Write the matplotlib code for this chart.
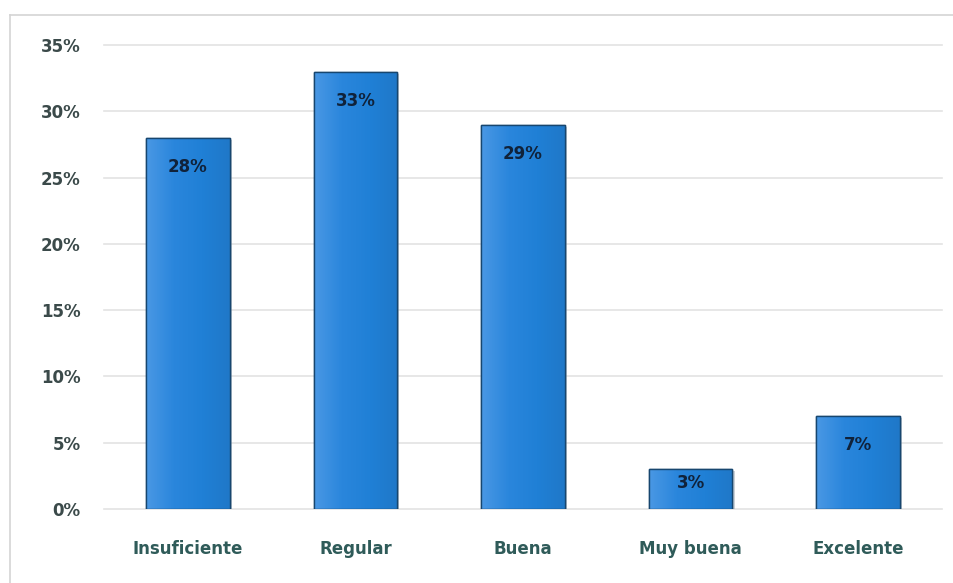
import matplotlib
matplotlib.use("Agg")
import matplotlib.pyplot as plt
import numpy as np
from matplotlib.patches import Rectangle
from matplotlib.colors import LinearSegmentedColormap

categories = ["Insuficiente", "Regular", "Buena", "Muy buena", "Excelente"]
values = [28, 33, 29, 3, 7]
labels = ["28%", "33%", "29%", "3%", "7%"]
yticks = [0, 5, 10, 15, 20, 25, 30, 35]

plt.rcParams["font.family"] = ["DejaVu Sans"]

fig = plt.figure(figsize=(9.54, 5.83), dpi=100)
fig.patch.set_facecolor("white")

# light frame around the chart (top and left edges)
fig.add_artist(plt.Line2D([10/954, 1.0], [1-15/583, 1-15/583], color="#d4d4d4", lw=1.2,
                          transform=fig.transFigure))
fig.add_artist(plt.Line2D([10/954, 10/954], [0.0, 1-15/583], color="#d4d4d4", lw=1.2,
                          transform=fig.transFigure))

ax = fig.add_axes([104/954, 1-509/583, 838/954, (509-45)/583])
ax.set_xlim(-0.5, len(categories) - 0.5)
ax.set_ylim(0, 35)

for y in yticks:
    ax.axhline(y, color="#e3e3e3", lw=1.2, zorder=0, clip_on=False)

cmap = LinearSegmentedColormap.from_list("bar", ["#4a98e4", "#2a86dc", "#2080d6", "#1f78c8"])
grad = np.linspace(0, 1, 256).reshape(1, -1)
width = 0.5
x = np.arange(len(categories))
bars = ax.bar(x, values, width=width, color="#2a84d8", edgecolor="#17466f", linewidth=1.0, zorder=2)
for b in bars:
    x0, w, h = b.get_x(), b.get_width(), b.get_height()
    # soft drop shadow
    ax.add_patch(Rectangle((x0 + 0.012, 0), w, h - 0.15, facecolor="#9aa7b3", edgecolor="none",
                           alpha=0.5, zorder=1))
    im = ax.imshow(grad, cmap=cmap, aspect="auto", extent=(x0, x0 + w, 0, h), zorder=2.5)
    im.set_clip_path(b)
    ax.add_patch(Rectangle((x0, 0), w, h, facecolor="none", edgecolor="#17466f", lw=1.0, zorder=3))

ax.set_xlim(-0.5, len(categories) - 0.5)
ax.set_ylim(0, 35)

for xi, v, lab in zip(x, values, labels):
    ax.text(xi, v - 2.2 if v > 5 else v - 1.05, lab, ha="center", va="center", fontsize=12,
            fontweight="bold", color="#10223a", zorder=4)

ax.set_xticks(x)
ax.set_xticklabels(categories, fontsize=12, color="#2f5b59", fontweight="bold")
ax.set_yticks(yticks)
ax.set_yticklabels([f"{t}%" for t in yticks], fontsize=12, color="#3b4a4a", fontweight="bold")
ax.tick_params(axis="both", length=0)
ax.tick_params(axis="x", pad=22)
ax.tick_params(axis="y", pad=17)
for s in ax.spines.values():
    s.set_visible(False)

fig.savefig("out.png", dpi=100, facecolor="white")
